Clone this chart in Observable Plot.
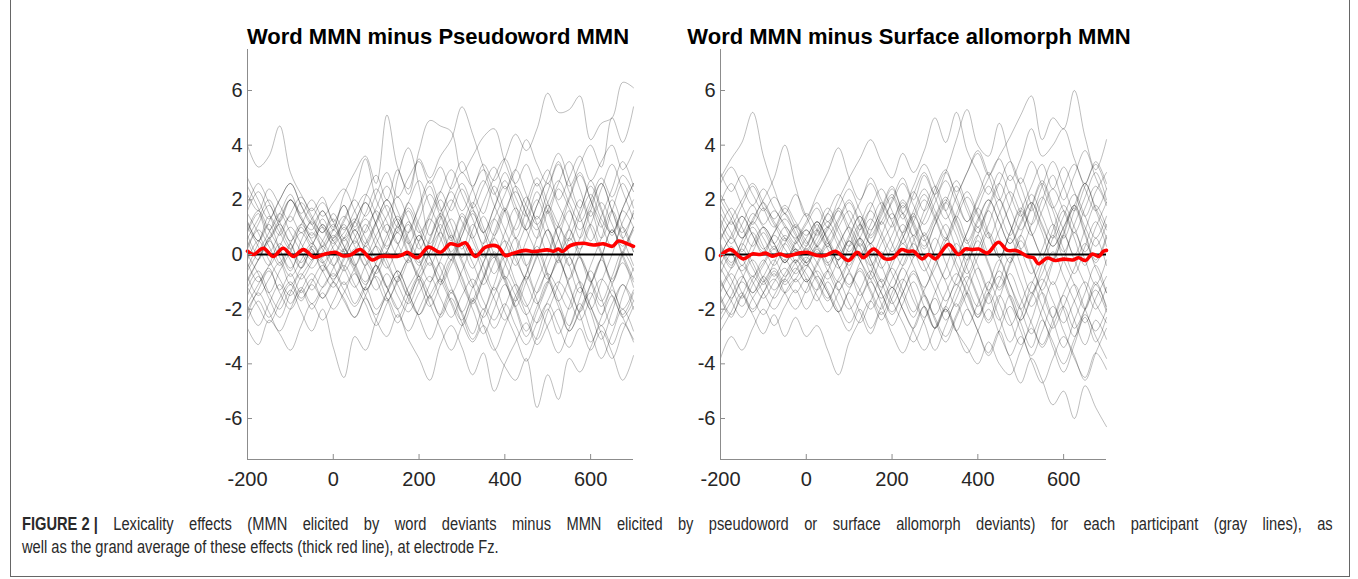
<!DOCTYPE html>
<html><head><meta charset="utf-8">
<script src="https://cdn.jsdelivr.net/npm/d3@7"></script>
<script src="https://cdn.jsdelivr.net/npm/@observablehq/plot@0.6"></script>
<style>
html,body{margin:0;padding:0;background:#fff;}
body{width:1358px;height:579px;position:relative;overflow:hidden;font-family:"Liberation Sans",Arial,sans-serif;}
#frame{position:absolute;left:10px;top:-2px;width:1340px;height:579px;border:1px solid #666;box-sizing:border-box;}
.title{position:absolute;width:600px;text-align:center;font-weight:bold;font-size:22px;color:#000;top:24px;line-height:normal;white-space:nowrap;}
.panel{position:absolute;top:0;}
#caption{position:absolute;left:22px;top:513px;font-family:"Liberation Sans",Arial,sans-serif;font-size:17.5px;line-height:23px;color:#2a2a2a;transform:scaleX(0.838);transform-origin:0 0;}
#cap1{width:1564px;text-align:justify;text-align-last:justify;white-space:nowrap;}
#cap1 b{display:inline-block;}
#cap2{white-space:nowrap;}
</style></head>
<body>
<div id="frame"></div>
<div class="title" style="left:138px">Word MMN minus Pseudoword MMN</div>
<div class="title" style="left:609px">Word MMN minus Surface allomorph MMN</div>
<div id="left" class="panel" style="left:0px"></div>
<div id="right" class="panel" style="left:680px"></div>
<div id="caption"><div id="cap1"><b>FIGURE 2 |</b> Lexicality effects (MMN elicited by word deviants minus MMN elicited by pseudoword or surface allomorph deviants) for each participant (gray lines), as</div><div id="cap2">well as the grand average of these effects (thick red line), at electrode Fz.</div></div>
<script>
// sample times (ms) for participant traces
const times = [-200,-175,-150,-125,-100,-75,-50,-25,0,25,50,75,100,125,150,175,200,225,250,275,300,325,350,375,400,425,450,475,500,525,550,575,600,625,650,675,700];

const xTicks = [-200, 0, 200, 400, 600];
const yTicks = [-6, -4, -2, 0, 2, 4, 6];

// Left panel: Word MMN minus Pseudoword MMN, one row per participant
const leftParticipants = [
[4.0,3.2,3.6,4.7,3.0,2.2,1.6,2.1,1.2,1.8,0.9,1.5,2.4,1.6,0.8,1.9,1.1,0.4,1.3,2.0,1.2,0.6,1.4,0.7,1.6,2.3,1.5,0.9,1.8,1.1,0.5,1.4,2.2,1.3,0.8,1.6,1.0],
[1.2,0.5,1.4,0.8,0.2,1.0,0.4,1.1,0.6,1.3,2.0,1.4,2.2,3.0,2.1,2.8,3.4,2.6,3.2,2.4,3.0,2.5,3.3,2.7,3.5,4.4,3.8,4.6,5.9,5.2,5.3,5.8,4.2,4.8,5.0,6.3,6.1],
[0.8,1.5,0.6,1.2,2.0,1.3,0.9,1.6,1.0,2.2,3.0,3.6,2.6,5.1,3.2,2.4,3.5,2.8,3.6,4.2,5.4,4.4,3.2,2.2,3.0,2.1,1.4,2.3,1.5,2.4,1.7,0.9,1.8,2.6,1.6,0.8,1.5],
[-0.5,0.4,1.1,0.2,-0.6,0.5,1.2,0.3,0.9,1.8,1.0,2.1,2.9,2.0,3.1,2.2,3.8,4.9,4.7,4.5,3.0,3.6,4.3,4.6,3.4,2.6,3.3,2.5,3.1,2.0,2.8,3.6,2.7,3.4,4.0,3.1,3.8],
[1.8,2.6,1.9,1.2,2.0,1.4,0.7,1.3,0.5,0.1,0.9,0.3,1.1,1.8,1.0,1.6,0.8,1.5,2.3,1.6,2.4,1.7,2.5,3.2,2.4,3.1,4.2,3.3,2.6,3.4,2.5,3.3,4.0,3.2,5.0,4.1,5.4],
[-2.7,-3.3,-2.4,-2.9,-3.5,-2.6,-1.8,-2.4,-1.7,-1.0,-1.8,-1.2,-2.0,-1.4,-0.8,-1.6,-2.2,-1.5,-0.9,-1.7,-2.4,-1.6,-2.3,-1.5,-0.8,-1.5,-2.2,-1.4,-0.7,-1.3,-2.0,-1.2,-1.9,-2.6,-1.8,-1.1,-1.7],
[-1.2,-0.6,-1.4,-2.0,-1.3,-2.1,-2.8,-2.0,-3.4,-4.5,-3.0,-3.5,-2.4,-1.6,-2.3,-1.5,-0.8,-1.5,-2.2,-1.4,-2.1,-2.9,-2.0,-2.7,-1.9,-1.1,-1.8,-2.5,-1.7,-1.0,-1.6,-2.4,-1.6,-0.9,-1.5,-2.2,-1.4],
[-1.8,-1.1,-0.5,-1.3,-0.7,-1.4,-0.9,-1.6,-1.0,-1.7,-2.3,-1.6,-2.4,-3.0,-2.2,-3.1,-3.8,-4.6,-3.3,-2.6,-3.4,-4.4,-3.6,-5.0,-4.0,-3.2,-2.5,-3.3,-2.6,-2.0,-2.8,-2.1,-1.4,-2.2,-1.5,-2.3,-1.7],
[0.5,-0.2,0.6,-0.3,0.4,-0.5,0.2,-0.6,-0.1,0.6,-0.3,-1.0,-0.4,-1.2,-0.6,-1.4,-2.2,-1.5,-2.3,-1.6,-2.5,-3.2,-2.6,-3.4,-4.1,-4.6,-3.8,-5.6,-4.4,-5.3,-3.8,-4.3,-3.4,-2.6,-3.3,-2.5,-3.2],
[-0.8,-1.5,-0.9,-0.3,-1.1,-0.5,0.1,-0.6,-1.2,-0.5,0.2,-0.5,-1.3,-0.7,-1.5,-2.1,-1.4,-0.8,-1.6,-2.3,-1.5,-0.9,-1.7,-2.4,-1.8,-2.6,-3.3,-2.5,-1.8,-2.6,-3.4,-2.7,-3.5,-2.8,-3.6,-4.6,-3.7],
[2.2,1.6,2.4,1.8,1.2,1.9,1.3,0.8,1.5,0.9,1.6,2.2,1.5,0.8,2.8,3.9,2.5,0.7,1.5,2.3,1.6,2.4,3.1,2.3,1.6,2.5,1.8,1.1,1.9,2.7,1.9,1.2,2.0,2.8,2.1,2.9,2.3],
[-1.5,-0.8,-1.6,-2.3,-1.4,-0.7,-1.3,-0.6,0.1,-0.5,-1.2,-0.4,0.3,-0.4,-1.1,-1.8,-1.0,-0.3,-1.1,-0.4,0.4,-0.3,-1.1,-0.3,0.5,-0.2,-1.0,-1.8,-1.0,-0.2,0.6,-0.1,-0.9,-1.7,-0.8,0.1,-0.6],
[0.6,1.3,2.0,1.2,0.5,1.1,1.7,1.0,0.4,1.0,0.3,-0.4,0.4,1.1,0.4,-0.3,0.5,1.3,0.6,-0.2,0.7,1.5,0.8,1.7,2.5,1.6,0.9,1.8,2.6,1.8,1.0,0.2,1.1,1.9,1.1,0.3,1.0],
[-0.3,-1.0,-0.4,0.4,-0.2,-0.9,-0.3,0.3,-0.4,-1.1,-0.5,0.3,-0.4,-1.2,-2.0,-1.2,-0.5,0.3,-0.5,-1.4,-0.6,0.2,-0.7,-1.6,-2.4,-1.5,-0.7,0.1,-0.8,-1.7,-0.9,-0.1,-1.0,-1.9,-1.1,-0.3,-1.2],
[1.0,0.3,-0.4,0.3,1.0,0.4,-0.2,0.5,1.1,0.3,-0.4,0.4,1.2,2.0,1.2,0.4,1.3,2.2,1.4,0.6,1.5,0.7,-0.1,0.8,1.7,0.9,1.9,2.8,1.9,1.0,2.0,2.9,2.0,1.1,0.3,1.2,2.0],
[-2.0,-1.3,-0.6,-1.4,-2.0,-1.3,-0.7,-1.2,-0.5,0.2,-0.5,-1.3,-0.6,0.1,-0.7,-1.5,-0.7,0.1,0.8,0.0,-0.8,-1.7,-0.9,-0.1,-1.0,-1.9,-2.8,-1.9,-1.0,-1.9,-2.8,-2.0,-1.1,-0.2,-1.1,-2.0,-1.3],
[0.2,0.9,0.3,-0.4,0.4,1.1,0.5,-0.1,0.6,1.2,2.2,3.5,2.0,1.2,0.4,1.2,0.4,-0.4,0.5,1.3,0.4,-0.5,0.4,1.3,0.5,-0.4,0.5,1.4,0.6,-0.3,0.6,1.6,2.5,1.6,0.7,1.7,2.6],
[-0.9,-0.2,0.5,-0.1,-0.8,-0.2,0.4,-0.2,-0.8,-0.1,0.6,1.3,0.6,-0.2,-1.0,-0.2,0.7,-0.1,-1.0,-0.2,0.7,1.6,0.8,-0.1,0.8,1.7,0.9,0.0,-0.9,0.0,0.9,0.0,-1.0,-0.1,0.9,0.0,-0.9],
[2.8,2.0,1.3,2.0,2.6,1.8,1.1,1.6,0.9,1.4,0.7,0.0,0.7,1.4,2.1,1.3,0.5,1.4,2.3,3.1,2.2,1.3,0.4,1.3,2.2,3.1,2.2,1.3,2.3,3.3,2.3,1.4,0.5,1.4,2.4,3.4,2.5],
[-2.4,-1.7,-2.3,-1.6,-1.0,-1.6,-1.0,-0.4,-1.0,-1.6,-2.3,-1.5,-0.8,-1.6,-2.5,-1.7,-0.9,-1.8,-2.7,-3.5,-2.6,-1.7,-2.6,-3.5,-2.6,-1.7,-0.8,-1.7,-2.7,-3.6,-2.7,-1.8,-2.8,-3.8,-2.9,-2.0,-2.8],
[0.9,1.6,0.9,0.2,-0.5,0.2,0.8,0.2,-0.4,0.2,0.9,0.1,-0.7,0.1,0.9,1.7,0.9,0.0,0.9,1.8,2.6,1.7,0.8,1.7,2.7,1.8,0.9,1.8,2.8,3.7,2.7,1.7,2.7,1.7,0.8,1.7,2.6],
[-1.2,-1.9,-2.5,-1.8,-1.1,-1.7,-1.1,-1.6,-1.0,-0.4,-1.1,-1.8,-2.6,-1.8,-1.0,-0.2,-1.0,-1.9,-1.1,-0.2,-1.1,-2.0,-2.9,-2.0,-1.1,-2.0,-3.0,-2.1,-1.1,-0.2,-1.2,-2.2,-3.2,-2.3,-1.3,-2.3,-3.1],
[1.5,0.8,0.1,0.8,1.5,2.1,1.4,0.8,1.3,0.6,1.2,1.9,1.1,0.3,1.1,1.9,2.7,1.8,0.9,0.0,0.9,1.8,2.7,1.8,0.9,0.0,-0.9,0.0,0.9,0.0,-0.9,0.1,1.1,0.1,-0.9,0.1,1.0],
[-0.6,0.1,0.8,1.5,0.8,0.1,-0.5,0.1,0.7,0.1,-0.6,-1.3,-0.6,0.1,0.8,0.0,-0.8,-1.6,-0.8,0.0,-0.9,-1.8,-0.9,0.0,-0.9,-1.9,-1.0,-0.1,0.9,-0.1,-1.1,-2.1,-1.1,-0.1,0.9,-0.1,-1.0],
[0.3,1.1,1.8,1.0,0.2,-0.5,0.3,1.0,0.2,-0.6,0.1,0.9,1.7,2.5,1.6,0.8,1.8,2.7,1.7,0.8,-0.1,0.9,1.9,2.8,3.5,2.5,1.5,0.6,1.6,2.6,3.4,2.4,1.4,2.4,3.3,2.3,1.3],
[-1.0,-0.2,0.5,1.1,0.4,-0.3,0.3,-0.3,-0.9,-0.2,0.5,-0.2,-0.9,-1.7,-0.9,-0.1,0.7,-0.1,-0.9,-1.8,-2.6,-1.7,-0.8,0.1,-0.8,-1.7,-0.7,0.3,-0.7,-1.7,-2.6,-1.6,-0.6,-1.6,-2.6,-1.5,-0.5],
[1.6,2.3,1.5,0.7,1.4,0.8,1.3,1.9,1.2,0.5,1.2,1.9,1.1,0.2,1.0,0.1,-0.8,0.1,1.1,0.1,1.0,1.9,1.0,0.0,-0.9,0.1,1.1,2.0,1.0,0.0,1.0,2.0,1.0,0.0,-1.0,0.0,0.9],
[-0.2,0.5,-0.2,-0.9,-1.5,-0.8,-0.2,0.3,0.9,0.3,-0.4,-1.1,-0.3,0.5,1.3,0.5,-0.3,0.6,1.5,0.6,-0.3,-1.2,-0.3,0.6,1.6,0.6,-0.4,0.6,1.6,0.6,-0.4,-1.4,-0.4,0.6,1.6,0.6,-0.4],
[2.5,1.7,0.9,1.5,2.2,1.5,2.0,1.4,1.9,2.4,1.6,0.8,1.6,0.8,0.0,0.8,1.7,2.5,1.6,2.5,3.4,2.4,1.5,2.5,1.6,0.6,1.6,2.6,1.6,0.6,-0.4,0.6,1.6,0.6,1.6,2.6,1.7],
[-1.9,-2.6,-1.8,-1.1,-1.8,-1.2,-1.8,-1.2,-0.7,-1.3,-1.9,-1.2,-0.4,-1.2,-2.0,-2.8,-2.0,-1.1,-0.3,-1.2,-2.1,-1.2,-0.3,0.6,-0.3,-1.2,-2.2,-3.1,-2.1,-1.1,-0.1,-1.1,-2.1,-3.1,-2.1,-1.1,-2.0],
[0.0,-0.7,-1.4,-0.6,0.1,0.8,0.2,-0.3,0.3,0.8,1.3,0.6,-0.1,0.7,1.4,0.6,-0.2,-1.0,-0.2,0.7,-0.2,-1.1,-2.0,-1.1,-0.1,-1.0,-1.9,-1.0,0.0,1.0,0.0,-1.0,-2.0,-1.0,0.0,1.0,0.1],
[0.7,0.0,0.6,1.3,2.0,1.3,0.6,1.1,0.5,1.1,0.4,1.1,0.3,-0.5,0.3,1.1,0.2,1.1,2.0,1.1,0.2,1.1,0.2,-0.7,0.2,1.1,2.1,1.1,0.1,1.1,2.1,3.0,2.0,1.0,2.0,1.0,0.1],
[-2.2,-1.4,-2.1,-2.8,-2.0,-1.3,-2.0,-1.4,-2.0,-1.4,-0.7,-1.5,-2.2,-1.4,-0.6,-1.4,-2.3,-3.1,-2.2,-1.3,-2.2,-3.1,-2.2,-1.2,-2.1,-3.0,-3.9,-3.0,-2.0,-2.9,-1.9,-1.0,-1.9,-2.9,-3.8,-2.8,-1.9],
[1.2,0.5,1.2,2.0,2.6,1.8,1.1,0.5,0.0,0.6,1.2,0.4,1.2,2.0,1.2,0.4,-0.4,0.5,1.4,0.5,1.4,0.5,-0.4,-1.3,-0.4,0.6,-0.4,-1.4,-0.4,0.6,1.6,0.6,1.6,2.6,1.6,0.6,1.6]
];

// Right panel: Word MMN minus Surface allomorph MMN
const rightParticipants = [
[2.8,3.5,4.1,5.2,3.6,2.4,1.5,2.2,1.4,0.7,1.5,0.8,0.1,0.9,1.6,0.8,0.1,0.8,1.5,0.7,1.4,2.1,1.3,0.5,1.3,2.0,1.2,0.4,1.2,1.9,1.1,0.3,1.0,1.8,1.0,0.3,1.1],
[0.5,1.2,0.6,1.3,2.0,2.8,4.0,2.5,1.4,2.2,3.0,3.9,2.8,2.0,2.8,2.0,1.3,2.0,1.2,0.5,1.3,2.0,1.2,0.4,1.2,2.0,1.2,0.4,1.1,1.9,1.0,0.3,1.0,1.8,2.6,1.7,0.9],
[-0.4,0.3,-0.4,0.4,1.0,0.4,-0.3,0.5,1.2,1.9,1.2,2.0,2.8,3.5,4.2,3.4,2.8,3.7,3.0,3.8,5.0,4.1,5.2,3.8,3.0,2.2,3.0,2.2,1.4,2.2,1.4,0.6,1.4,2.2,1.4,0.6,1.4],
[1.3,0.6,1.4,0.7,0.0,0.8,1.5,0.8,0.1,0.9,1.7,1.0,0.3,1.1,1.9,1.1,2.0,2.8,2.0,2.9,2.2,3.0,4.2,5.3,4.0,3.6,4.8,3.5,2.6,3.4,2.5,1.7,2.5,3.3,2.4,1.6,2.4],
[0.2,-0.5,0.3,1.0,0.3,-0.4,0.4,1.1,0.4,1.2,0.5,-0.2,0.6,1.4,0.7,1.5,2.2,1.5,2.3,1.6,2.4,3.1,2.3,3.0,3.7,2.9,3.6,4.3,5.1,5.8,4.2,5.0,4.6,6.0,4.3,3.1,4.2],
[1.8,1.1,1.8,2.5,1.7,1.0,1.7,1.0,0.3,1.1,0.4,1.2,1.9,1.1,0.4,1.2,1.9,2.6,1.8,1.1,1.9,2.7,1.9,1.2,2.0,2.8,3.5,2.7,3.5,4.6,3.6,4.0,4.6,3.5,2.6,3.4,2.6],
[-3.8,-3.0,-3.5,-2.7,-2.0,-2.6,-1.9,-1.3,-2.0,-1.3,-0.6,-1.3,-2.0,-1.3,-0.6,-1.4,-2.1,-1.4,-0.7,-1.5,-2.2,-1.4,-0.7,-1.5,-2.3,-1.5,-0.8,-1.6,-2.4,-1.6,-0.9,-1.7,-2.5,-1.7,-1.0,-1.8,-2.5],
[-1.6,-2.3,-1.5,-2.2,-2.9,-2.2,-3.0,-2.3,-3.0,-2.6,-3.5,-4.4,-3.2,-2.4,-1.7,-2.4,-1.6,-0.9,-1.7,-2.5,-3.5,-2.6,-1.8,-2.6,-1.8,-1.0,-1.8,-2.6,-1.8,-1.0,-1.9,-2.7,-1.9,-1.1,-2.0,-2.8,-2.0],
[0.3,-0.4,0.4,-0.3,-1.0,-0.3,0.4,-0.3,-1.0,-0.3,0.4,-0.4,-1.2,-0.5,-1.3,-2.0,-1.2,-2.0,-2.7,-1.9,-2.7,-2.0,-2.8,-3.4,-4.0,-3.2,-4.0,-4.4,-3.5,-2.7,-3.4,-2.6,-1.9,-2.7,-2.0,-1.3,-2.1],
[-0.9,-1.6,-0.9,-0.2,-0.9,-1.6,-0.9,-0.2,-0.9,-1.7,-1.0,-1.8,-2.5,-1.7,-1.0,-1.8,-2.6,-1.8,-1.0,-1.9,-2.7,-1.9,-2.8,-3.6,-2.8,-2.0,-2.9,-3.8,-4.7,-3.8,-4.6,-5.5,-5.0,-6.0,-4.8,-5.6,-6.3],
[-1.4,-0.7,-1.4,-2.1,-1.4,-0.7,-1.4,-2.0,-1.3,-0.6,-1.3,-2.1,-2.8,-2.0,-2.7,-1.9,-1.2,-2.0,-2.8,-3.5,-2.7,-2.0,-2.8,-2.0,-2.8,-3.6,-2.8,-3.7,-3.0,-3.9,-4.7,-3.8,-3.0,-3.8,-4.5,-3.6,-4.2],
[1.0,1.7,1.0,0.3,1.0,0.4,-0.2,0.4,0.9,0.3,1.0,1.7,1.0,0.3,1.1,1.9,1.2,0.4,1.2,2.0,1.3,0.5,1.3,2.1,1.4,0.6,1.5,2.3,1.5,0.7,1.6,2.4,1.6,0.8,1.7,2.5,1.8],
[-0.7,0.0,-0.7,-1.4,-0.8,-0.2,-0.8,-0.3,0.2,-0.3,-0.9,-0.2,0.5,-0.2,-0.9,-1.6,-0.9,-0.1,0.7,-0.1,-0.9,-1.7,-0.9,0.0,-0.9,-1.8,-1.0,-0.1,-1.0,-1.9,-1.1,-0.2,0.7,-0.2,-1.1,-2.0,-1.2],
[2.2,1.5,0.8,1.5,1.0,0.4,1.0,0.5,0.0,0.6,1.2,0.5,-0.2,0.6,1.3,0.6,-0.2,0.6,1.4,2.2,1.4,0.6,1.5,2.3,1.5,0.7,-0.1,0.8,1.6,0.8,0.0,0.9,1.8,1.0,0.1,1.0,1.9],
[-2.2,-1.5,-0.8,-1.4,-0.8,-1.3,-0.7,-0.2,-0.7,-1.3,-0.6,0.1,-0.6,-1.3,-2.0,-1.3,-0.5,-1.3,-2.1,-1.3,-0.5,0.3,-0.5,-1.4,-2.2,-1.4,-0.6,-1.5,-2.4,-1.5,-0.7,0.1,-0.8,-1.7,-2.5,-1.6,-0.8],
[0.4,-0.3,0.5,1.2,0.6,0.0,0.6,0.1,-0.4,0.2,-0.4,0.3,1.0,0.3,-0.4,0.4,1.1,1.9,1.1,0.3,1.1,1.9,2.7,1.8,1.0,1.8,2.6,1.7,0.9,1.8,2.7,1.8,0.9,0.0,0.9,1.8,1.0],
[-1.0,-1.7,-2.3,-1.6,-1.0,-0.5,-1.0,-0.5,-1.0,-0.4,0.3,-0.4,-1.1,-0.3,0.4,-0.4,-1.2,-0.4,0.4,-0.4,-1.3,-2.1,-1.3,-0.4,0.5,-0.4,-1.3,-0.4,0.5,-0.4,-1.4,-2.3,-1.4,-0.5,0.4,-0.5,-1.4],
[2.6,3.2,2.5,1.8,2.4,1.7,1.1,0.6,1.1,1.7,1.0,1.7,2.4,1.6,0.9,1.7,2.5,1.7,2.5,3.3,2.5,1.6,2.5,1.6,0.8,1.7,2.6,3.4,2.5,1.6,2.5,3.4,2.5,1.6,2.5,3.3,2.4],
[-2.8,-2.1,-1.4,-2.0,-1.4,-0.9,-1.4,-0.9,-0.4,-1.0,-1.7,-1.0,-1.8,-2.5,-1.7,-0.9,-1.7,-2.5,-3.2,-2.4,-1.6,-2.4,-1.6,-0.8,-1.6,-2.5,-1.6,-0.7,-1.6,-2.5,-3.3,-2.4,-1.5,-2.4,-3.3,-2.4,-3.1],
[0.0,0.7,1.4,0.7,0.1,0.7,0.2,-0.3,0.3,0.9,0.2,-0.5,0.3,1.1,0.3,-0.5,0.3,1.1,0.2,-0.6,0.2,1.1,0.2,-0.7,0.2,1.1,2.0,1.1,0.2,-0.7,0.2,1.1,0.2,-0.7,0.3,1.2,0.3],
[1.5,0.8,0.1,0.8,0.2,0.8,1.3,0.7,0.2,0.8,1.5,2.2,1.4,0.6,-0.1,0.7,1.5,0.7,-0.1,0.8,-0.1,-0.9,-0.1,0.8,1.7,0.8,-0.1,0.8,1.7,0.8,-0.2,-1.1,-0.2,0.8,-0.2,-1.1,-0.2],
[-0.2,-0.9,-1.6,-0.9,-0.3,0.3,-0.3,0.2,-0.3,-0.9,-1.6,-0.9,-0.2,0.6,-0.2,-1.0,-0.2,0.6,1.4,0.6,-0.2,0.6,-0.3,-1.1,-1.9,-1.1,-0.2,-1.1,-2.0,-1.1,-0.2,0.7,-0.2,-1.1,-2.0,-1.1,-1.9],
[3.0,2.3,2.9,2.2,1.6,2.1,1.5,1.0,1.5,0.9,0.3,1.0,1.6,0.9,1.7,2.4,1.6,0.8,1.6,2.4,1.6,0.8,0.0,0.8,1.7,2.5,1.6,0.7,1.6,2.5,3.3,2.4,3.2,2.3,1.4,2.3,3.0],
[-1.8,-1.1,-0.4,-1.0,-1.6,-1.0,-0.5,-1.0,-0.5,0.1,-0.6,-1.3,-0.6,0.1,-0.7,-1.4,-2.2,-1.4,-0.6,-1.4,-2.3,-3.0,-2.2,-1.4,-2.3,-1.4,-2.3,-3.2,-2.3,-1.4,-2.3,-3.2,-4.0,-3.1,-2.2,-3.0,-3.8],
[0.8,0.1,-0.6,0.1,0.8,0.2,0.7,0.2,-0.3,0.3,0.9,1.6,0.8,0.0,0.8,1.6,2.4,1.5,0.7,1.6,2.5,1.6,0.7,-0.2,0.7,1.6,0.6,-0.3,0.7,1.7,2.6,1.6,0.6,1.6,2.6,1.6,0.6],
[-1.2,-0.5,0.2,-0.5,-1.1,-0.6,-1.1,-0.6,-0.1,-0.7,-1.4,-2.1,-1.3,-0.6,-1.4,-2.2,-1.4,-0.5,-1.4,-2.3,-1.4,-0.5,0.4,-0.5,-1.5,-2.4,-1.5,-2.4,-3.3,-2.4,-1.4,-2.4,-3.4,-2.4,-1.4,-0.4,-1.4],
[1.9,2.6,1.8,1.1,1.7,1.1,0.5,1.0,0.5,0.0,0.6,1.3,2.0,1.2,0.4,1.2,0.4,-0.4,0.5,1.3,2.2,3.0,2.1,1.2,2.1,3.0,2.1,1.1,0.2,1.1,2.1,1.1,0.1,1.1,2.1,3.0,2.0],
[-0.5,-1.2,-1.9,-1.1,-0.4,0.2,-0.3,0.2,-0.3,0.3,-0.3,-1.0,-0.2,0.6,-0.2,-1.0,-1.8,-1.0,-0.1,0.7,-0.1,-1.0,-1.9,-1.0,-0.1,0.8,-0.1,-1.1,-2.0,-2.9,-2.0,-1.0,-2.0,-3.0,-2.0,-1.0,-2.0],
[0.6,1.3,2.0,2.6,1.9,1.2,0.6,0.1,0.6,1.2,0.5,-0.2,0.5,-0.2,-0.9,-0.1,0.7,1.5,0.6,-0.2,0.6,-0.3,-1.1,-0.2,0.7,-0.3,-1.2,-0.3,0.7,-0.3,-1.3,-0.3,0.7,1.7,0.7,-0.3,0.6],
[-2.4,-1.7,-1.0,-1.6,-2.2,-1.5,-0.9,-1.4,-0.9,-1.5,-2.1,-1.4,-0.7,-1.5,-0.7,0.1,-0.7,-1.5,-2.3,-1.5,-2.4,-3.2,-2.3,-1.4,-0.5,-1.4,-2.4,-1.5,-2.5,-3.4,-2.4,-3.4,-4.3,-3.3,-2.3,-3.2,-2.3],
[1.1,0.4,1.1,1.8,1.1,1.6,1.0,0.4,0.9,0.3,-0.3,0.4,1.1,1.9,2.6,1.8,1.0,1.8,1.0,0.2,1.1,1.9,1.0,0.1,1.0,0.1,0.9,1.8,2.8,1.8,0.8,-0.2,0.8,1.8,0.8,-0.2,0.7],
[-0.1,0.6,-0.1,-0.8,-0.2,-0.8,-0.2,-0.7,-0.2,0.4,1.0,0.3,-0.4,0.4,-0.4,-1.2,-0.4,0.4,-0.4,-1.2,-0.3,0.5,1.4,0.5,-0.4,-1.3,-0.4,0.6,-0.4,-1.4,-0.4,0.6,1.6,0.6,-0.4,0.6,-0.4],
[2.0,1.3,0.6,1.2,1.9,1.3,1.8,1.2,0.7,1.2,0.6,0.0,0.7,1.4,0.6,1.4,2.1,1.3,2.2,3.0,2.1,1.3,2.1,3.0,3.8,2.9,2.0,2.9,2.0,1.1,2.0,2.9,2.0,2.9,3.8,2.8,1.9],
[-1.5,-2.2,-1.5,-0.8,-1.4,-2.0,-1.4,-0.9,-1.4,-0.8,-1.4,-2.1,-1.4,-2.1,-2.9,-2.1,-2.9,-3.6,-2.7,-1.9,-2.7,-1.9,-1.1,-1.9,-2.8,-3.7,-2.8,-1.9,-2.8,-3.7,-2.8,-1.9,-2.8,-3.7,-4.6,-3.6,-2.7]
];

// Grand averages (thick red lines)
const leftAvgTimes = [-200,-186,-163,-140,-117,-93,-70,-44,-23,5,23,40,63,91,110,149,163,172,196,222,250,273,292,308,331,355,383,401,420,448,467,499,514,525,534,553,583,607,630,651,665,686,700];
const leftAvgValues = [0.12,0.0,0.23,-0.07,0.23,-0.07,0.18,-0.1,0.0,0.08,-0.05,-0.02,0.18,-0.2,-0.07,-0.07,0.0,0.08,-0.12,0.27,0.08,0.39,0.33,0.43,-0.07,0.27,0.3,-0.04,0.05,0.15,0.11,0.17,0.12,0.2,0.11,0.33,0.41,0.35,0.39,0.3,0.49,0.39,0.3];
const rightAvgTimes = [-200,-177,-147,-126,-107,-95,-80,-61,-45,-14,2,25,44,68,98,119,133,157,184,203,222,238,250,270,285,301,332,355,371,387,402,422,448,469,488,499,515,530,541,562,581,600,621,635,651,667,682,693,700];
const rightAvgValues = [-0.04,0.18,-0.16,0.02,0.0,0.05,-0.06,0.02,-0.06,0.06,0.08,-0.04,-0.04,0.12,-0.22,0.08,-0.12,0.2,-0.16,-0.12,0.18,0.11,0.12,-0.16,0.0,-0.16,0.37,0.0,0.2,0.18,0.2,0.05,0.45,0.15,0.15,0.08,-0.07,-0.12,-0.34,-0.13,-0.22,-0.17,-0.2,-0.12,-0.22,0.02,-0.07,0.12,0.15];

function check(name, arrs, n) {
  arrs.forEach((a, i) => { if (a.length !== n) throw new Error(name + " row " + i + " has " + a.length); });
}
check("left", leftParticipants, times.length);
check("right", rightParticipants, times.length);
if (leftAvgTimes.length !== leftAvgValues.length) throw new Error("leftAvg " + leftAvgTimes.length + " vs " + leftAvgValues.length);
if (rightAvgTimes.length !== rightAvgValues.length) throw new Error("rightAvg " + rightAvgTimes.length + " vs " + rightAvgValues.length);

const fmt = d => String(d);
const axisGray = "#8c8c8c";

function panel(participants, avgT, avgV, width, marginLeft, marginRight) {
  const rows = participants.flatMap((arr, p) => arr.map((v, i) => ({p, t: times[i], v})));
  const avg = avgT.map((t, i) => ({t, v: avgV[i]}));
  return Plot.plot({
    width, height: 500,
    marginLeft, marginRight, marginTop: 49, marginBottom: 41,
    x: {domain: [-200, 700]},
    y: {domain: [-7.5, 7.5]},
    style: {fontFamily: "'Liberation Sans', Arial, sans-serif", fontSize: "20px", color: "#262626", background: "transparent", overflow: "visible"},
    marks: [
      Plot.line(rows, {x: "t", y: "v", z: "p", stroke: "#000", strokeOpacity: 0.33, strokeWidth: 0.8, curve: "catmull-rom"}),
      Plot.ruleY([0], {x1: -200, x2: 700, stroke: "#000", strokeWidth: 2}),
      Plot.line(avg, {x: "t", y: "v", stroke: "#ff0000", strokeWidth: 3.6, curve: "catmull-rom", strokeLinejoin: "round"}),
      Plot.ruleX([-200], {stroke: axisGray, strokeWidth: 1}),
      Plot.ruleY([-7.5], {stroke: axisGray, strokeWidth: 1}),
      Plot.axisY(yTicks, {tickSize: -5, fill: "none", stroke: axisGray, label: null}),
      Plot.axisY(yTicks, {tickSize: 0, tickPadding: 5, tickFormat: fmt, fill: "#262626", label: null, fontSize: 20}),
      Plot.axisX(xTicks, {tickSize: -5, fill: "none", stroke: axisGray, label: null}),
      Plot.axisX(xTicks, {tickSize: 0, tickPadding: 12, tickFormat: fmt, fill: "#262626", label: null, fontSize: 20})
    ]
  });
}

document.getElementById("left").appendChild(panel(leftParticipants, leftAvgTimes, leftAvgValues, 680, 247, 47));
document.getElementById("right").appendChild(panel(rightParticipants, rightAvgTimes, rightAvgValues, 500, 40, 74));
</script>
</body></html>
